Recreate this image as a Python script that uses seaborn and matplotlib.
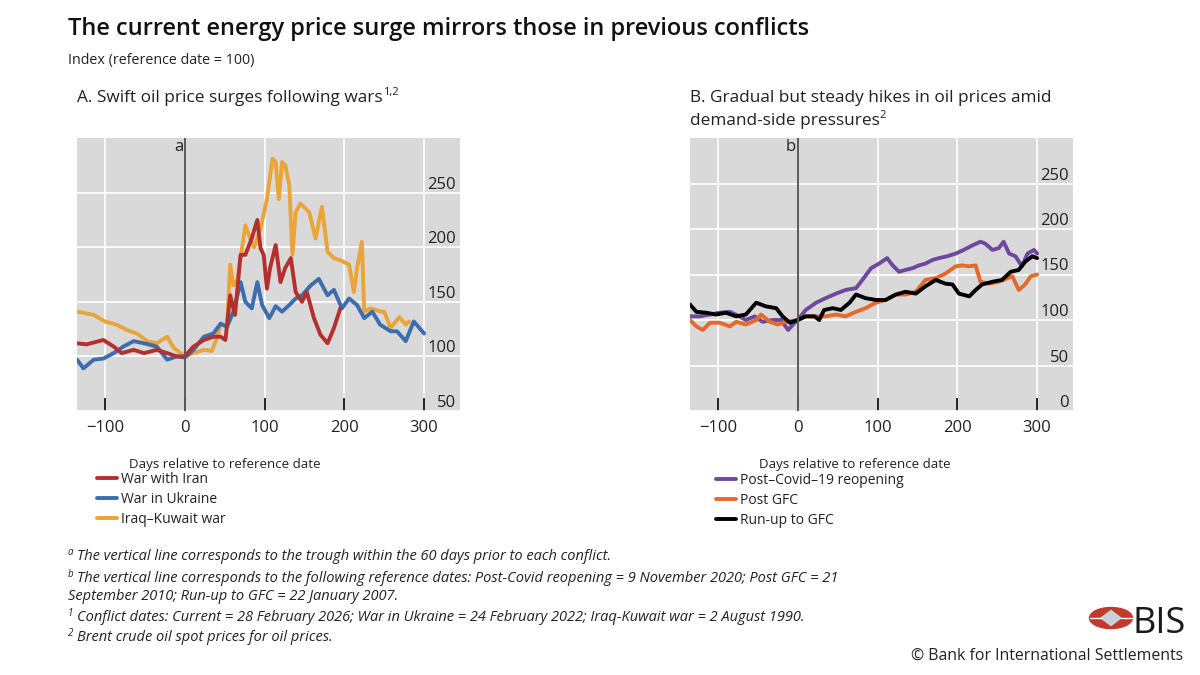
import numpy as np
import pandas as pd
import matplotlib
matplotlib.use("Agg")
import matplotlib.pyplot as plt
import seaborn as sns
from matplotlib.patches import Ellipse, Polygon

# ---------------- data ----------------
# Panel A: swift oil price surges following wars
iran_days = [-135, -123, -102, -89, -79, -64, -51, -35, -22, -10, 0, 11, 24, 36, 45, 51, 57, 63,
             70, 76, 84, 91, 95, 99, 103, 107, 114, 120, 126, 133, 139, 147, 153, 162, 170, 179,
             187, 195]
iran_vals = [112, 111, 115, 109, 103, 106, 103, 106, 103, 100, 100, 109, 115, 118, 118, 115, 156, 138,
             193, 193, 208, 225, 199, 193, 162, 181, 202, 168, 181, 190, 159, 150, 159, 135, 120, 112,
             126, 144]

ukraine_days = [-135, -127, -114, -102, -89, -77, -64, -51, -35, -22, -10, 0, 11, 24, 36, 45, 53, 61,
                70, 76, 84, 91, 97, 106, 114, 122, 131, 139, 147, 158, 168, 179, 187, 197, 206, 216,
                225, 235, 245, 258, 266, 277, 287, 300]
ukraine_vals = [97, 89, 97, 98, 103, 109, 114, 112, 109, 97, 100, 99, 106, 118, 121, 130, 127, 141,
                168, 150, 144, 168, 147, 135, 146, 141, 147, 153, 156, 165, 171, 156, 161, 144, 153, 147,
                135, 141, 129, 123, 123, 114, 132, 121]

iraq_days = [-135, -114, -100, -85, -72, -60, -47, -35, -22, -14, 0, 11, 24, 34, 41, 45, 53, 57, 61,
             66, 76, 82, 87, 95, 103, 110, 114, 118, 122, 126, 131, 135, 139, 145, 156, 164, 172, 179,
             187, 195, 206, 212, 216, 222, 225, 233, 246, 250, 258, 269, 277, 281]
iraq_vals = [141, 138, 132, 129, 124, 121, 114, 112, 118, 108, 100, 103, 106, 105, 118, 130, 127, 184, 165,
             170, 220, 208, 200, 217, 244, 281, 278, 244, 278, 275, 257, 193, 232, 240, 232, 208, 237, 196,
             190, 188, 184, 159, 181, 205, 141, 144, 141, 141, 126, 136, 129, 132]

# Panel B: gradual but steady hikes amid demand-side pressures
covid_days = [-135, -123, -110, -98, -85, -73, -65, -54, -44, -31, -21, -12, -6, 0, 10, 23, 35, 48, 60,
              73, 81, 92, 102, 112, 119, 127, 135, 144, 152, 160, 169, 177, 187, 198, 208, 219, 229,
              235, 244, 252, 258, 265, 273, 281, 288, 296, 300]
covid_vals = [104, 104, 106, 108, 109, 104, 100, 104, 98, 100, 100, 89, 95, 100, 111, 119, 124, 129, 133,
              135, 144, 157, 162, 168, 160, 153, 155, 157, 160, 162, 166, 168, 170, 173, 177, 182, 186,
              184, 177, 179, 186, 173, 170, 159, 173, 177, 173]

postgfc_days = [-135, -127, -119, -110, -98, -85, -77, -65, -52, -46, -35, -25, -15, 0, 10, 23, 35, 48,
                60, 73, 85, 98, 110, 123, 135, 148, 160, 173, 185, 198, 206, 215, 223, 229, 240, 252,
                263, 269, 277, 285, 292, 300]
postgfc_vals = [100, 93, 89, 97, 97, 93, 98, 95, 100, 106, 98, 95, 98, 100, 104, 104, 104, 106,
                104, 109, 113, 119, 122, 128, 128, 131, 144, 146, 151, 159, 160, 159, 160, 142, 140, 142,
                146, 148, 133, 139, 148, 150]

runup_days = [-135, -127, -115, -102, -90, -77, -65, -52, -40, -27, -19, -10, 0, 10, 21, 27, 33, 44, 54,
              65, 73, 85, 98, 110, 123, 135, 148, 160, 173, 185, 194, 202, 215, 223, 231, 244, 256,
              267, 277, 285, 294, 300]
runup_vals = [117, 109, 108, 106, 108, 104, 106, 119, 115, 113, 104, 97, 100, 104, 104, 100, 111, 113, 111,
              119, 128, 124, 122, 122, 128, 131, 129, 137, 144, 140, 139, 129, 126, 133, 139, 142, 144,
              153, 155, 164, 170, 168]

x_ticks = [-100, 0, 100, 200, 300]
x_ticklabels = ["\u2212100", "0", "100", "200", "300"]
yticks_a = [50, 100, 150, 200, 250]
yticks_b = [0, 50, 100, 150, 200, 250]

legend_a = ["War with Iran", "War in Ukraine", "Iraq\u2013Kuwait war"]
legend_b = ["Post\u2013Covid\u201319 reopening", "Post GFC", "Run-up to GFC"]

# ---------------- style ----------------
sns.set_theme(style="darkgrid", rc={"axes.facecolor": "#D9D9D9", "grid.color": "white",
                                    "grid.linewidth": 1.2, "figure.facecolor": "white"})
plt.rcParams["font.family"] = ["Open Sans", "DejaVu Sans"]
plt.rcParams["mathtext.fontset"] = "custom"
plt.rcParams["mathtext.rm"] = "Open Sans"
plt.rcParams["mathtext.it"] = "Open Sans:italic"

W, H = 1200, 675
fig = plt.figure(figsize=(12, 6.75), dpi=100)


def fx(px):
    return px / W


def fy(py):
    return 1 - py / H


axA = fig.add_axes([fx(77), fy(411), fx(383), 273 / H])
axB = fig.add_axes([fx(690), fy(411), fx(383), 273 / H])

dfA = pd.concat([
    pd.DataFrame({"day": iran_days, "value": iran_vals, "series": legend_a[0]}),
    pd.DataFrame({"day": ukraine_days, "value": ukraine_vals, "series": legend_a[1]}),
    pd.DataFrame({"day": iraq_days, "value": iraq_vals, "series": legend_a[2]}),
])
dfB = pd.concat([
    pd.DataFrame({"day": covid_days, "value": covid_vals, "series": legend_b[0]}),
    pd.DataFrame({"day": postgfc_days, "value": postgfc_vals, "series": legend_b[1]}),
    pd.DataFrame({"day": runup_days, "value": runup_vals, "series": legend_b[2]}),
])

colors_a = {legend_a[0]: "#B3302D", legend_a[1]: "#3C6DB0", legend_a[2]: "#E9A53A"}
colors_b = {legend_b[0]: "#6E489D", legend_b[1]: "#E46A2B", legend_b[2]: "#000000"}

LW = 2.8
for name in [legend_a[2], legend_a[1], legend_a[0]]:
    sub = dfA[dfA.series == name]
    sns.lineplot(data=sub, x="day", y="value", ax=axA, color=colors_a[name], lw=LW,
                 label=name, estimator=None, sort=False)
for name in [legend_b[0], legend_b[1], legend_b[2]]:
    sub = dfB[dfB.series == name]
    sns.lineplot(data=sub, x="day", y="value", ax=axB, color=colors_b[name], lw=LW,
                 label=name, estimator=None, sort=False)


def style(ax, ylim, yticks, letter):
    ax.set_xlim(-135, 345)
    ax.set_ylim(*ylim)
    ax.set_xticks(x_ticks)
    ax.set_xticklabels(x_ticklabels)
    ax.set_yticks(yticks)
    ax.tick_params(axis="y", left=False, right=False, labelleft=False, labelright=False)
    ax.tick_params(axis="x", direction="in", length=9.5, width=1.2, color="black", bottom=True,
                   pad=6.5, labelsize=12, labelcolor="#222222")
    for s in ax.spines.values():
        s.set_visible(False)
    ax.set_ylabel("")
    ax.axvline(0, color="#5a5a5a", lw=1.4, zorder=3)
    for v in yticks:
        ax.text(0.99, v, str(v), transform=ax.get_yaxis_transform(), ha="right", va="bottom",
                fontsize=12, color="#222222")
    ax.text(-2, ylim[1] - 1, letter, ha="right", va="top", fontsize=12, color="#222222")
    ax.set_xlabel("Days relative to reference date", fontsize=9.6, color="#222222")
    leg = ax.get_legend()
    if leg:
        leg.remove()


style(axA, (50, 300), yticks_a, "a")
style(axB, (0, 300), yticks_b, "b")
axA.xaxis.set_label_coords((225 - 77) / 383, -(458 - 411) / 273)
axB.xaxis.set_label_coords((855 - 690) / 383, -(458 - 411) / 273)


def make_legend(ax, order, x_px, y_px):
    h, l = ax.get_legend_handles_labels()
    hd = dict(zip(l, h))
    fig.legend([hd[n] for n in order], order, loc="upper left",
               bbox_to_anchor=(fx(x_px), fy(y_px)), frameon=False, borderpad=0,
               borderaxespad=0, handlelength=1.45, handletextpad=0.25, labelspacing=0.37,
               fontsize=10, labelcolor="#222222")


make_legend(axA, legend_a, 97, 472)
make_legend(axB, legend_b, 716, 473)

# ---------------- texts ----------------
fig.text(fx(68), fy(35), "The current energy price surge mirrors those in previous conflicts",
         fontsize=17, fontweight="semibold", color="#111111")
fig.text(fx(68), fy(64), "Index (reference date = 100)", fontsize=10.3, color="#222222")
tA = fig.text(fx(77), fy(102), "A. Swift oil price surges following wars", fontsize=12.4,
              color="#222222")
fig.text(fx(690), fy(102), "B. Gradual but steady hikes in oil prices amid", fontsize=12.4,
         color="#222222")
tB = fig.text(fx(690), fy(125), "demand-side pressures", fontsize=12.4, color="#222222")

fig.canvas.draw()
rend = fig.canvas.get_renderer()
for t, sup in [(tA, "1,2"), (tB, "2")]:
    bb = t.get_window_extent(rend)
    fig.text(bb.x1 / W, t.get_position()[1] + 7 / H, sup, fontsize=8, color="#222222")

foot = [
    (560, "a", "The vertical line corresponds to the trough within the 60 days prior to each conflict."),
    (582, "b", "The vertical line corresponds to the following reference dates: Post-Covid reopening = 9 November 2020; Post GFC = 21"),
    (600, "", "September 2010; Run-up to GFC = 22 January 2007."),
    (621, "1", "Conflict dates: Current = 28 February 2026; War in Ukraine = 24 February 2022; Iraq-Kuwait war = 2 August 1990."),
    (641, "2", "Brent crude oil spot prices for oil prices."),
]
for ypx, mark, t in foot:
    if mark:
        fig.text(fx(68), fy(ypx) + 5 / H, mark, fontsize=7, style="italic", color="#222222")
        fig.text(fx(77), fy(ypx), t, fontsize=10.5, style="italic", color="#222222")
    else:
        fig.text(fx(68), fy(ypx), t, fontsize=10.5, style="italic", color="#222222")

# BIS logo
logo = fig.add_axes([fx(1088), fy(634), fx(46), 32 / H])
logo.set_xlim(0, 46)
logo.set_ylim(0, 32)
logo.axis("off")
logo.add_patch(Ellipse((23, 16), 43, 21, color="#C23A2E"))
logo.add_patch(Polygon([(13, 16), (23, 23.5), (33, 16), (23, 8.5)], closed=True, color="#C9D2D8"))
for (x0, y0, x1, y1) in [(2, 16, 13, 16), (33, 16, 44, 16)]:
    logo.plot([x0, x1], [y0, y1], color="white", lw=1.0)
fig.text(fx(1132), fy(633), "BIS", fontsize=26, color="#1a1a1a")
fig.text(fx(1183), fy(660), "\u00a9 Bank for International Settlements", fontsize=11.4,
         ha="right", color="#222222")

fig.savefig("out.png", dpi=100)
